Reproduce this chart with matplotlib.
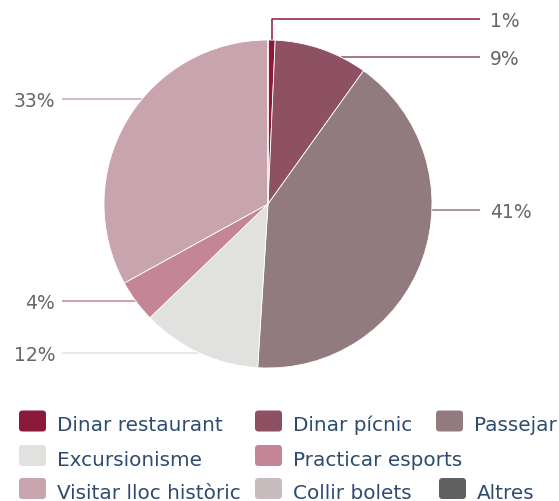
import os
import numpy as np
import matplotlib
matplotlib.use("Agg")
import matplotlib.pyplot as plt
from matplotlib.patches import FancyBboxPatch
from matplotlib.font_manager import FontProperties

_dv = os.path.join(matplotlib.get_data_path(), "fonts", "ttf", "DejaVuSans.ttf")
def fp(size):
    if os.path.exists(_dv):
        return FontProperties(fname=_dv, size=size)
    return FontProperties(family="DejaVu Sans", size=size)

# ---- data ----
categories = ["Dinar restaurant", "Dinar pícnic", "Passejar", "Excursionisme",
              "Practicar esports", "Visitar lloc històric", "Collir bolets", "Altres"]
values = [0.7, 9.2, 41.1, 11.8, 4.2, 33.0, 0.0, 0.0]
colors = ["#8B1A3A", "#8E5063", "#917B7F", "#E1E1DF",
          "#C48696", "#C8A5AE", "#C9BCBF", "#606060"]

# ---- layout (pixels) ----
W, H = 559, 502
CX, CY, R = 268, 205, 164
label_y = {0: 20, 1: 58, 2: 211, 3: 354, 4: 302, 5: 100}
label_side = {0: 1, 1: 1, 2: 1, 3: -1, 4: -1, 5: -1}
legend_xy = {0: (19, 422), 1: (255, 422), 2: (436, 422),
             3: (19, 456.5), 4: (255, 456.5),
             5: (19, 489.5), 6: (255, 489.5), 7: (439, 489.5)}

def Y(p):
    return H - p

fig = plt.figure(figsize=(W / 100, H / 100), dpi=100)
ax = fig.add_axes([0, 0, 1, 1])

wedges, _ = ax.pie(values, colors=colors, startangle=90, counterclock=False,
                   center=(CX, Y(CY)), radius=R,
                   wedgeprops=dict(linewidth=0.6, edgecolor="white"))

ax.set_xlim(0, W)
ax.set_ylim(0, H)
ax.set_aspect("equal")
ax.axis("off")

# data labels with connectors
label_fp = fp(13.5)
total = sum(values)
cum = 0.0
for i, v in enumerate(values):
    mid = (cum + v / 2) / total
    cum += v
    if i not in label_y:
        continue
    ang = mid * 2 * np.pi
    ly = label_y[i]
    side = label_side[i]
    dy = ly - CY
    xend = 480 if side > 0 else 62
    if abs(dy) < R:
        xe = CX + side * np.sqrt(R ** 2 - dy ** 2)
        xs = [xe, xend]
        ys = [ly, ly]
    else:
        mx = CX + R * np.sin(ang)
        my = CY - R * np.cos(ang)
        xs = [mx, mx, xend]
        ys = [my, ly, ly]
    ax.plot(xs, [Y(y) for y in ys], color=colors[i], lw=1.1,
            solid_capstyle="butt", zorder=0)
    txt = f"{round(v)}%"
    if side > 0:
        ax.text(490, Y(ly + 7), txt, ha="left", va="baseline",
                fontproperties=label_fp, color="#666666")
    else:
        ax.text(55, Y(ly + 7), txt, ha="right", va="baseline",
                fontproperties=label_fp, color="#666666")

# legend
leg_fp = fp(14.4)
for i, name in enumerate(categories):
    x0, yc = legend_xy[i]
    box = FancyBboxPatch((x0, Y(yc) - 10.5), 27, 21,
                         boxstyle="round,pad=0,rounding_size=3.5",
                         facecolor=colors[i], edgecolor="none")
    ax.add_patch(box)
    ax.text(x0 + 38, Y(yc + 9.5), name, ha="left", va="baseline",
            fontproperties=leg_fp, color="#2D4B6E")

fig.savefig("out.png", dpi=100)
